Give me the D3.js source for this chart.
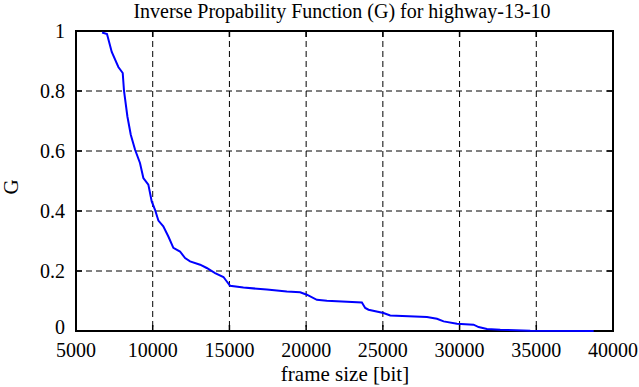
<!DOCTYPE html>
<html><head><meta charset="utf-8">
<script src="https://cdn.jsdelivr.net/npm/d3@7"></script>
<style>body{margin:0;background:#fff}svg{display:block}</style>
</head><body><svg id="c" width="639" height="387" font-family="'Liberation Serif', 'DejaVu Serif', serif"></svg>
<script>
const frameSize = [6700,7020,7330,7760,8045,8130,8350,8570,8850,9170,9390,9715,9935,10150,10370,10690,11020,11345,11780,12110,12435,13090,13520,14065,14610,14830,15040,15910,17440,18740,19609,20046,20698,21350,23633,23850,24065,25043,25480,27874,28526,28960,29830,30913,31240,31785,32650,34610,38740];
const gValue =    [0.995,0.99,0.93,0.88,0.86,0.80,0.715,0.654,0.604,0.56,0.51,0.488,0.432,0.404,0.368,0.349,0.315,0.277,0.265,0.243,0.232,0.221,0.21,0.193,0.18,0.165,0.151,0.145,0.138,0.132,0.129,0.121,0.104,0.101,0.095,0.077,0.071,0.06,0.052,0.047,0.041,0.032,0.024,0.021,0.013,0.007,0.004,0.001,0];
const xTicks = [5000,10000,15000,20000,25000,30000,35000,40000];
const yTicks = [0,0.2,0.4,0.6,0.8,1];
const title = "Inverse Propability Function (G) for highway-13-10";
const xLabel = "frame size [bit]";
const yLabel = "G";

const svg = d3.select("#c");
const L=76,R=613,T=31,B=331;
const x = d3.scaleLinear().domain([5000,40000]).range([L,R]);
const y = d3.scaleLinear().domain([0,1]).range([B,T]);
const fs = 20, fsL = 21;

svg.append("g").selectAll("line").data(xTicks.slice(1,-1)).join("line")
  .attr("x1",d=>x(d)).attr("x2",d=>x(d)).attr("y1",T).attr("y2",B)
  .attr("stroke","#000").attr("stroke-width",1).attr("stroke-dasharray","6,4");
svg.append("g").selectAll("line").data(yTicks.slice(1,-1)).join("line")
  .attr("x1",L).attr("x2",R).attr("y1",d=>y(d)).attr("y2",d=>y(d))
  .attr("stroke","#000").attr("stroke-width",1).attr("stroke-dasharray","6,4");

const tk=6;
const tg = svg.append("g").attr("stroke","#000").attr("stroke-width",1.5);
xTicks.forEach(d=>{
  tg.append("line").attr("x1",x(d)).attr("x2",x(d)).attr("y1",B).attr("y2",B-tk);
  tg.append("line").attr("x1",x(d)).attr("x2",x(d)).attr("y1",T).attr("y2",T+tk);
});
yTicks.forEach(d=>{
  tg.append("line").attr("x1",L).attr("x2",L+tk).attr("y1",y(d)).attr("y2",y(d));
  tg.append("line").attr("x1",R).attr("x2",R-tk).attr("y1",y(d)).attr("y2",y(d));
});

svg.append("rect").attr("x",L).attr("y",T).attr("width",R-L).attr("height",B-T)
  .attr("fill","none").attr("stroke","#000").attr("stroke-width",2);

const line = d3.line().x((d,i)=>x(frameSize[i])).y((d,i)=>y(gValue[i]));
svg.append("path").datum(gValue).attr("d",line).attr("fill","none")
  .attr("stroke","#0000ff").attr("stroke-width",2);

svg.append("g").selectAll("text").data(xTicks).join("text")
  .attr("x",d=>x(d)).attr("y",357).attr("text-anchor","middle").attr("font-size",fs)
  .text(d=>d);
svg.append("g").selectAll("text").data(yTicks).join("text")
  .attr("x",65).attr("y",d=>d===0?334:y(d)+7).attr("text-anchor","end").attr("font-size",fs)
  .text(d=>d);

svg.append("text").attr("x",342).attr("y",18).attr("text-anchor","middle").attr("font-size",fs).text(title);
svg.append("text").attr("x",345).attr("y",381).attr("text-anchor","middle").attr("font-size",fsL).text(xLabel);
svg.append("text").attr("transform","translate(18,187) rotate(-90)").attr("text-anchor","middle").attr("font-size",fsL).text(yLabel);
</script></body></html>
